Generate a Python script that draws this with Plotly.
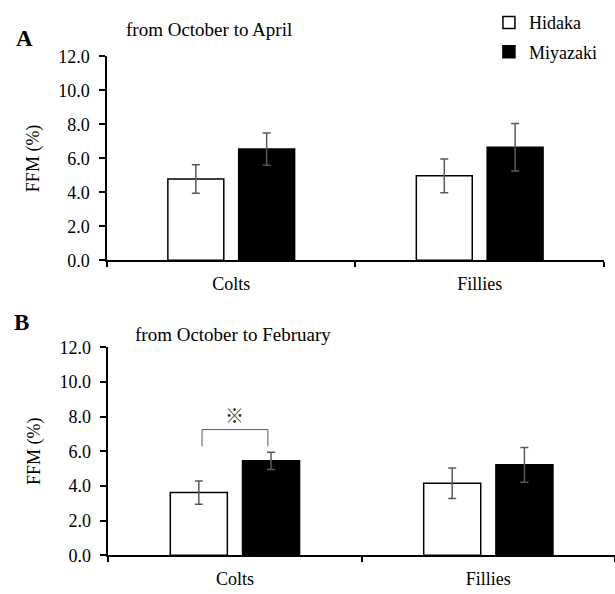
import plotly.graph_objects as go

categories = ["Colts", "Fillies"]
series_names = ["Hidaka", "Miyazaki"]

# Panel A: from October to April
a_hidaka = [4.78, 4.97]
a_hidaka_err = [0.84, 1.0]
a_miyazaki = [6.55, 6.65]
a_miyazaki_err = [0.95, 1.4]

# Panel B: from October to February
b_hidaka = [3.62, 4.16]
b_hidaka_err = [0.67, 0.88]
b_miyazaki = [5.45, 5.22]
b_miyazaki_err = [0.5, 1.0]

y_ticks = [0, 2, 4, 6, 8, 10, 12]

# significance bracket (panel B, Colts)
bracket_top = 7.25
bracket_leg = 6.28
star_y = 8.1

FONT = "Liberation Serif, Times New Roman, serif"
ERR_COLOR = "#595959"

fig = go.Figure()

def add_panel(vals_h, err_h, vals_m, err_m, xa, ya, show):
    fig.add_trace(go.Bar(
        x=categories, y=vals_h, name=series_names[0],
        marker=dict(color="white", line=dict(color="black", width=1.5)),
        error_y=dict(type="data", array=err_h, color=ERR_COLOR, thickness=1.5, width=4),
        xaxis=xa, yaxis=ya, showlegend=show, legendgroup="h"))
    fig.add_trace(go.Bar(
        x=categories, y=vals_m, name=series_names[1],
        marker=dict(color="black", line=dict(color="black", width=1.5)),
        error_y=dict(type="data", array=err_m, color=ERR_COLOR, thickness=1.5, width=4),
        xaxis=xa, yaxis=ya, showlegend=show, legendgroup="m"))

add_panel(a_hidaka, a_hidaka_err, a_miyazaki, a_miyazaki_err, "x", "y", True)
add_panel(b_hidaka, b_hidaka_err, b_miyazaki, b_miyazaki_err, "x2", "y2", False)

axis_common_x = dict(
    type="category", showline=True, linecolor="black", linewidth=1.5,
    ticks="outside", tickson="boundaries", ticklen=5, tickcolor="black", tickwidth=1.5,
    ticklabelstandoff=6,
    tickfont=dict(family=FONT, size=18, color="black"), showgrid=False, zeroline=False,
)
axis_common_y = dict(
    range=[0, 12], tickvals=y_ticks, tickformat=".1f",
    showline=True, linecolor="black", linewidth=1.5,
    ticks="outside", ticklen=6, tickcolor="black", tickwidth=1.5,
    ticklabelstandoff=6,
    tickfont=dict(family=FONT, size=18, color="black"), showgrid=False, zeroline=False,
    title=dict(text="FFM (%)", font=dict(family=FONT, size=18, color="black"), standoff=14),
)

fig.update_layout(
    width=615, height=594,
    margin=dict(l=0, r=0, t=0, b=0),
    plot_bgcolor="white", paper_bgcolor="white",
    barmode="group", bargap=0.43, bargroupgap=0.21,
    xaxis=dict(domain=[0.174, 0.982], anchor="y", **axis_common_x),
    yaxis=dict(domain=[0.564, 0.919], anchor="x", **axis_common_y),
    xaxis2=dict(domain=[0.176, 1.0], anchor="y2", **axis_common_x),
    yaxis2=dict(domain=[0.050, 0.4125], anchor="x2", **axis_common_y),
    legend=dict(x=0.795, y=1.01, xanchor="left", yanchor="top",
                font=dict(family=FONT, size=18, color="black"),
                tracegroupgap=3, bgcolor="rgba(0,0,0,0)", itemwidth=30),
    font=dict(family=FONT, color="black"),
)

# Panel labels and titles
fig.add_annotation(text="<b>A</b>", xref="paper", yref="paper",
                   x=14/615, y=1-29/594, xanchor="left", yanchor="middle",
                   showarrow=False, font=dict(family=FONT, size=23))
fig.add_annotation(text="from October to April", xref="paper", yref="paper",
                   x=124/615, y=1-20/594, xanchor="left", yanchor="middle",
                   showarrow=False, font=dict(family=FONT, size=19))
fig.add_annotation(text="<b>B</b>", xref="paper", yref="paper",
                   x=12/615, y=1-323/594, xanchor="left", yanchor="middle",
                   showarrow=False, font=dict(family=FONT, size=23))
fig.add_annotation(text="from October to February", xref="paper", yref="paper",
                   x=133/615, y=1-336/594, xanchor="left", yanchor="middle",
                   showarrow=False, font=dict(family=FONT, size=19))

# significance bracket
off = 0.13
fig.add_shape(type="line", xref="x2", yref="y2", x0=-off, x1=-off, y0=bracket_leg, y1=bracket_top,
              line=dict(color=ERR_COLOR, width=1))
fig.add_shape(type="line", xref="x2", yref="y2", x0=-off, x1=off, y0=bracket_top, y1=bracket_top,
              line=dict(color=ERR_COLOR, width=1))
fig.add_shape(type="line", xref="x2", yref="y2", x0=off, x1=off, y0=bracket_leg, y1=bracket_top,
              line=dict(color=ERR_COLOR, width=1))
fig.add_annotation(text="※", xref="x2", yref="y2", x=0, y=star_y, showarrow=False,
                   font=dict(family="Noto Sans CJK JP", size=19, color="#303030"))

fig.write_html("out.html")
